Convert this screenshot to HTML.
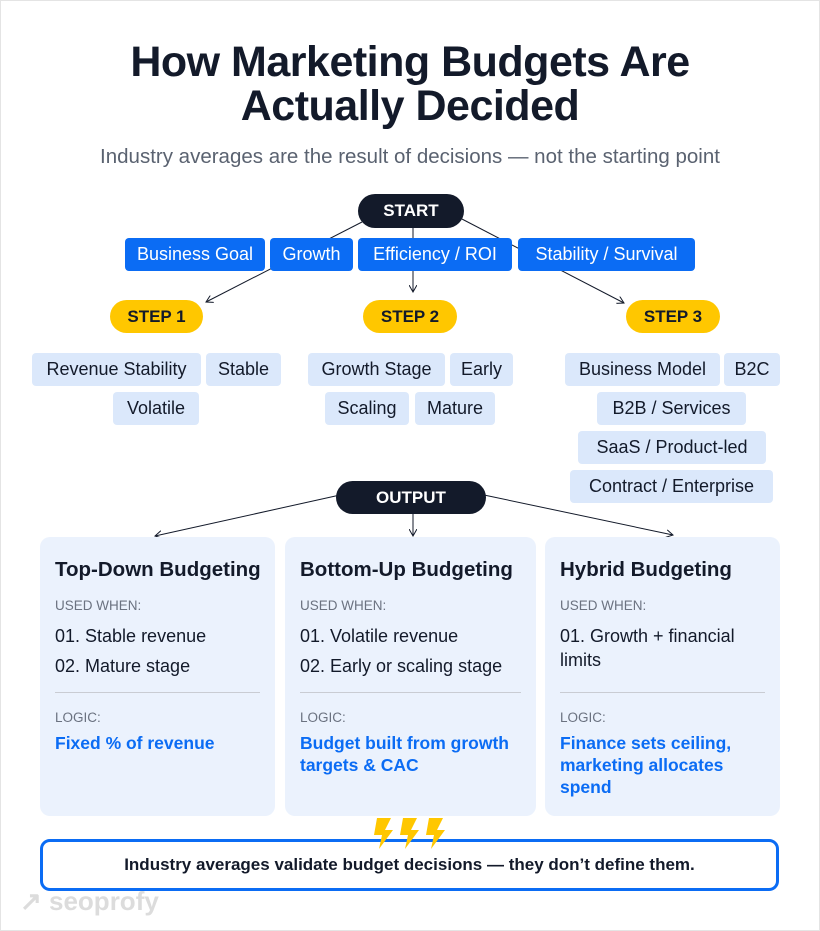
<!DOCTYPE html>
<html><head><meta charset="utf-8"><style>
*{margin:0;padding:0;box-sizing:border-box}
body{width:820px;height:931px;background:#fff;font-family:"Liberation Sans",sans-serif;position:relative;overflow:hidden;color:#131a2a}
.frame{position:absolute;left:0;top:0;width:820px;height:931px;border:1px solid #e4e4e4}
.a{position:absolute;display:flex;align-items:center;justify-content:center;white-space:nowrap}
.pill{background:#131a2a;color:#fff;font-weight:bold;font-size:17px;border-radius:17px}
.blue{background:#0b6cf4;color:#fff;font-size:18px;border-radius:4px}
.yel{background:#ffc700;color:#131a2a;font-weight:bold;font-size:17px;border-radius:17px}
.chip{background:#dbe8fb;color:#131a2a;font-size:18px;border-radius:4px}
.card{position:absolute;top:537px;height:279px;background:#ebf2fd;border-radius:10px;padding:0 15px}
.card h3{position:absolute;top:21px;font-size:20.5px;font-weight:bold}
.card .l{position:absolute;font-size:13.5px;color:#6b7280}
.card .it{position:absolute;font-size:18px;line-height:24px}
.card .hr{position:absolute;top:155px;height:1px;background:#c9ccd3}
.card .b{position:absolute;top:195px;font-size:17.5px;font-weight:bold;color:#0b6cf4;line-height:22px}
</style></head><body>
<div class="frame"></div>
<div class="a" style="left:0;top:40px;width:820px;font-size:43px;font-weight:bold;line-height:44px;text-align:center;flex-direction:column;letter-spacing:-0.5px">How Marketing Budgets Are<br>Actually Decided</div>
<div class="a" style="left:0;top:145px;width:820px;font-size:20.5px;color:#5a6270">Industry averages are the result of decisions — not the starting point</div>
<svg style="position:absolute;left:0;top:0" width="820" height="931">
<defs><marker id="m" markerWidth="8" markerHeight="8" refX="7" refY="4" orient="auto"><path d="M0,0 L7,4 L0,8" fill="none" stroke="#131a2a" stroke-width="1"/></marker></defs>
<g stroke="#131a2a" stroke-width="1" fill="none">
<line x1="362" y1="222" x2="206" y2="302" marker-end="url(#m)"/>
<line x1="413" y1="228" x2="413" y2="292" marker-end="url(#m)"/>
<line x1="460" y1="218" x2="624" y2="303" marker-end="url(#m)"/>
<line x1="340" y1="495" x2="155" y2="536" marker-end="url(#m)"/>
<line x1="413" y1="514" x2="413" y2="536" marker-end="url(#m)"/>
<line x1="484" y1="495" x2="673" y2="535" marker-end="url(#m)"/>
</g>
</svg>
<div class="a pill" style="left:358px;top:194px;width:106px;height:34px">START</div>
<div class="a blue" style="left:125px;top:238px;width:140px;height:33px">Business Goal</div>
<div class="a blue" style="left:270px;top:238px;width:83px;height:33px">Growth</div>
<div class="a blue" style="left:358px;top:238px;width:154px;height:33px">Efficiency / ROI</div>
<div class="a blue" style="left:518px;top:238px;width:177px;height:33px">Stability / Survival</div>
<div class="a yel" style="left:110px;top:300px;width:93px;height:33px">STEP 1</div>
<div class="a yel" style="left:363px;top:300px;width:94px;height:33px">STEP 2</div>
<div class="a yel" style="left:626px;top:300px;width:94px;height:33px">STEP 3</div>
<div class="a chip" style="left:32px;top:353px;width:169px;height:33px">Revenue Stability</div>
<div class="a chip" style="left:206px;top:353px;width:75px;height:33px">Stable</div>
<div class="a chip" style="left:113px;top:392px;width:86px;height:33px">Volatile</div>
<div class="a chip" style="left:308px;top:353px;width:137px;height:33px">Growth Stage</div>
<div class="a chip" style="left:450px;top:353px;width:63px;height:33px">Early</div>
<div class="a chip" style="left:325px;top:392px;width:84px;height:33px">Scaling</div>
<div class="a chip" style="left:415px;top:392px;width:80px;height:33px">Mature</div>
<div class="a chip" style="left:565px;top:353px;width:155px;height:33px">Business Model</div>
<div class="a chip" style="left:724px;top:353px;width:56px;height:33px">B2C</div>
<div class="a chip" style="left:597px;top:392px;width:149px;height:33px">B2B / Services</div>
<div class="a chip" style="left:578px;top:431px;width:188px;height:33px">SaaS / Product-led</div>
<div class="a chip" style="left:570px;top:470px;width:203px;height:33px">Contract / Enterprise</div>
<div class="a pill" style="left:336px;top:481px;width:150px;height:33px">OUTPUT</div>

<div class="card" style="left:40px;width:235px">
<h3>Top-Down Budgeting</h3>
<div class="l" style="top:61px">USED WHEN:</div>
<div class="it" style="top:87px">01. Stable revenue</div>
<div class="it" style="top:117px">02. Mature stage</div>
<div class="hr" style="left:15px;right:15px"></div>
<div class="l" style="top:173px">LOGIC:</div>
<div class="b">Fixed % of revenue</div>
</div>
<div class="card" style="left:285px;width:251px">
<h3>Bottom-Up Budgeting</h3>
<div class="l" style="top:61px">USED WHEN:</div>
<div class="it" style="top:87px">01. Volatile revenue</div>
<div class="it" style="top:117px">02. Early or scaling stage</div>
<div class="hr" style="left:15px;right:15px"></div>
<div class="l" style="top:173px">LOGIC:</div>
<div class="b">Budget built from growth<br>targets &amp; CAC</div>
</div>
<div class="card" style="left:545px;width:235px">
<h3>Hybrid Budgeting</h3>
<div class="l" style="top:61px">USED WHEN:</div>
<div class="it" style="top:87px">01. Growth + financial<br>limits</div>
<div class="hr" style="left:15px;right:15px"></div>
<div class="l" style="top:173px">LOGIC:</div>
<div class="b">Finance sets ceiling,<br>marketing allocates<br>spend</div>
</div>

<div class="a" style="left:40px;top:839px;width:739px;height:52px;border:3px solid #0b6cf4;border-radius:10px;font-size:17px;font-weight:bold;background:transparent">Industry averages validate budget decisions — they don’t define them.</div>
<svg style="position:absolute;left:0;top:0;pointer-events:none" width="820" height="931"><g fill="#ffc700">
<path d="M377,818 h14 l-6,12 h8 l-14,19 l3,-14 h-8z"/>
<path d="M403,818 h14 l-6,12 h8 l-14,19 l3,-14 h-8z"/>
<path d="M429,818 h14 l-6,12 h8 l-14,19 l3,-14 h-8z"/></g></svg>
<div class="a" style="left:20px;top:886px;font-size:26px;color:#dcdcdc;font-weight:bold">↗ seoprofy</div>
</body></html>
